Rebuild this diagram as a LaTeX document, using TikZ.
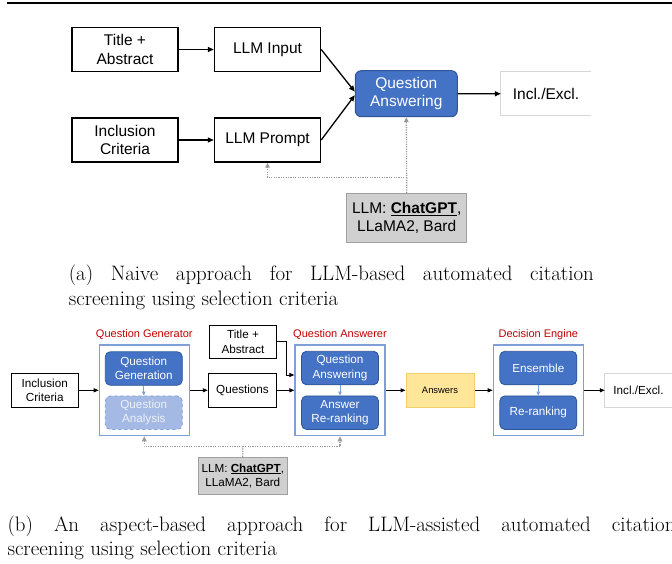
\documentclass[tikz,border=0pt]{standalone}
\usepackage{fontspec}
\setsansfont{Liberation Sans}
\usetikzlibrary{arrows.meta}

\definecolor{qblue}{HTML}{4472C4}
\definecolor{qblueline}{HTML}{2F5597}
\definecolor{frameblue}{HTML}{7F9FD8}
\definecolor{paleblue}{HTML}{A4B9E3}
\definecolor{ansyellow}{HTML}{FFE699}
\definecolor{ansline}{HTML}{F3CF6B}
\definecolor{llmgray}{HTML}{D0D0D0}
\definecolor{llmline}{HTML}{A0A0A0}
\definecolor{dotgray}{HTML}{9A9A9A}
\definecolor{stagered}{HTML}{C00000}
\definecolor{openline}{HTML}{D6D6D6}

\tikzset{
  bigfont/.style={font=\fontsize{15.5}{18.5}\selectfont\sffamily},
  smallfont/.style={font=\fontsize{11.7}{14.3}\selectfont\sffamily},
  plainbox/.style={draw, line width=1.4pt, align=center, inner sep=0pt, minimum width=106pt, minimum height=44pt, bigfont},
  smallbox/.style={draw, line width=1.1pt, align=center, inner sep=0pt, smallfont},
  qabox/.style={draw=qblueline, fill=qblue, text=white, rounded corners=6pt, line width=1pt, align=center, inner sep=0pt, minimum width=102pt, minimum height=46pt, bigfont},
  llmbox/.style={draw=llmline, fill=llmgray, line width=1pt, align=center, inner sep=0pt},
  stagebox/.style={draw=frameblue, fill=white, line width=1.2pt, minimum width=90pt, minimum height=90.7pt, inner sep=0pt},
  stagelabel/.style={text=stagered, font=\fontsize{11}{13}\selectfont\sffamily, inner sep=0pt},
  innerbox/.style={draw=qblueline, fill=qblue, text=white, rounded corners=5pt, line width=.8pt, align=center, inner sep=0pt, minimum width=77pt, minimum height=33.5pt, smallfont},
  toparrow/.style={-{Triangle[length=6pt,width=5pt]}, line width=1.3pt},
  botarrow/.style={-{Triangle[length=5pt,width=4pt]}, line width=1pt},
  innerarrow/.style={-{Triangle[length=4pt,width=3.5pt]}, frameblue, line width=.9pt},
  dotline/.style={dotgray, line width=1.3pt, dash pattern=on 1.2pt off 1.2pt},
  dotarrow/.style={dotline, -{Triangle[length=5pt,width=4.5pt]}},
  capfont/.style={font=\fontsize{20.9}{25}\selectfont, inner sep=0pt, anchor=base west}
}

\begin{document}
\begin{tikzpicture}[x=1pt,y=-1pt]
\useasboundingbox (0,0) rectangle (672,564);
\draw[line width=2pt] (7,3) -- (672,3);

% naive approach
\node[plainbox] (tiabs) at (125,49.5) {Title +\\Abstract};
\node[plainbox] (llmin) at (267.5,49.5) {LLM Input};
\node[plainbox] (incrit) at (125,140) {Inclusion\\Criteria};
\node[plainbox] (llmpr) at (267.5,140) {LLM Prompt};
\node[qabox] (qa) at (406.3,93.7) {Question\\Answering};
\node[bigfont, minimum width=90pt, minimum height=44pt, inner sep=0pt] (incl) at (546,93.8) {Incl./Excl.};
\draw[openline, line width=1pt] (incl.north east) -- (incl.north west) -- (incl.south west) -- (incl.south east);
\node[llmbox, bigfont, minimum width=120pt, minimum height=49pt] (llm) at (406.7,218) {LLM: \textbf{\underline{ChatGPT}},\\LLaMA2, Bard};
\draw[toparrow] (tiabs) -- (llmin);
\draw[toparrow] (incrit) -- (llmpr);
\draw[toparrow] (llmin.east) -- ([yshift=2pt]qa.west);
\draw[toparrow] (llmpr.east) -- ([yshift=-1.5pt]qa.west);
\draw[toparrow] (qa) -- (incl);
\coordinate (splita) at (406.7,177.7);
\draw[dotarrow] (llm.north) -- (qa.south);
\draw[dotarrow] (splita) -| (llmpr.south);

\node[capfont] (capa1) at (68.6,280) {\makebox[525pt][s]{(a) Naive approach for LLM-based automated citation}};
\node[capfont] (capa2) at (68.6,305) {screening using selection criteria};

% aspect-based approach
\node[smallbox, minimum width=67pt, minimum height=34pt] (incrit2) at (44.7,390.3) {Inclusion\\Criteria};
\node[stagebox] (qgen) at (144.3,390.3) {};
\node[stagelabel] (qgenlab) at (144.3,335) {Question Generator};
\node[innerbox] (qgn) at (143.8,368.5) {Question\\Generation};
\node[innerbox, fill=paleblue, draw=frameblue, dashed, text=white!80!paleblue] (qan) at (143.8,412.7) {Question\\Analysis};
\draw[innerarrow] (qgn) -- (qan);

\node[smallbox, minimum width=67.4pt, minimum height=33.3pt] (tiabs2) at (243,341.7) {Title +\\Abstract};
\node[smallbox, minimum width=68.4pt, minimum height=34pt] (questions) at (242.5,390.3) {Questions};

\node[stagebox] (qaw) at (340,390.3) {};
\node[stagelabel] (qawlab) at (340,335) {Question Answerer};
\node[innerbox] (qans) at (340,368) {Question\\Answering};
\node[innerbox] (ansrr) at (340,412.7) {Answer\\Re-ranking};
\draw[innerarrow] (qans) -- (ansrr);

\node[draw=ansline, fill=ansyellow, line width=1pt, minimum width=68pt, minimum height=34pt, inner sep=0pt, font=\fontsize{9.4}{11}\selectfont\sffamily] (answers) at (440,390.3) {Answers};

\node[stagebox] (deng) at (538.3,390.3) {};
\node[stagelabel] (denglab) at (538.3,335) {Decision Engine};
\node[innerbox] (ens) at (538.3,368) {Ensemble};
\node[innerbox] (rerank) at (538.3,412.7) {Re-ranking};
\draw[innerarrow] (ens) -- (rerank);

\node[smallfont, minimum width=67pt, minimum height=34pt, inner sep=0pt] (incl2) at (638.5,390.3) {Incl./Excl.};
\draw[openline, line width=1pt] (incl2.north east) -- (incl2.north west) -- (incl2.south west) -- (incl2.south east);

\node[llmbox, smallfont, minimum width=89pt, minimum height=36.7pt] (llm2) at (242.8,475.7) {LLM: \textbf{\underline{ChatGPT}},\\LLaMA2, Bard};

\draw[botarrow] (incrit2) -- (qgen);
\draw[botarrow] (qgen) -- (questions);
\draw[botarrow] (questions) -- (qaw);
\coordinate (bend) at (286.7,375);
\draw[botarrow] (tiabs2.east) -| (bend) -- (bend -| qaw.west);
\draw[botarrow] (qaw) -- (answers);
\draw[botarrow] (answers) -- (deng);
\draw[botarrow] (deng) -- (incl2);
\coordinate (splitb) at (242.7,446.7);
\draw[dotline] (llm2.north) -- (splitb);
\draw[dotarrow] (splitb) -| (qgen.south);
\draw[dotarrow] (splitb) -| (qaw.south);

\node[capfont] (capb1) at (7.3,531) {\makebox[668pt][s]{(b) An aspect-based approach for LLM-assisted automated citation}};
\node[capfont] (capb2) at (7.3,555) {screening using selection criteria};
\end{tikzpicture}
\end{document}
